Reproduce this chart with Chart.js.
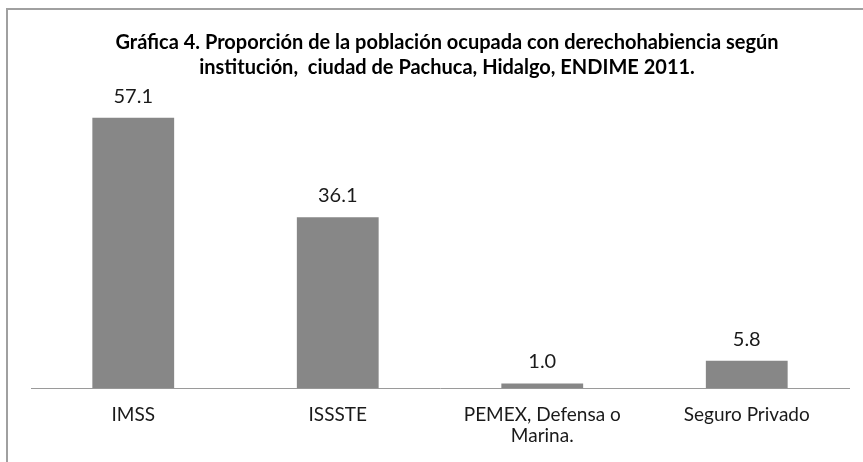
<!DOCTYPE html>
<html>
<head>
<meta charset="utf-8">
<script src="https://cdn.jsdelivr.net/npm/chart.js@4"></script>
<style>
  html, body { margin: 0; padding: 0; background: #fff; overflow: hidden; }
  #wrap { position: relative; width: 863px; height: 462px; }
  #frame { position: absolute; left: 6px; top: 8px; width: 900px; height: 500px; border: 2px solid #a0a0a0; box-sizing: border-box; pointer-events: none; }
  canvas { position: absolute; left: 0; top: 0; }
</style>
</head>
<body>
<div id="wrap">
  <canvas id="c" width="863" height="462"></canvas>
  <div id="frame"></div>
</div>
<script>
const titleLines = [
  "Gráfica 4. Proporción de la población ocupada con derechohabiencia según",
  "institución,  ciudad de Pachuca, Hidalgo, ENDIME 2011."
];
const categories = [["IMSS"], ["ISSSTE"], ["PEMEX, Defensa o", "Marina."], ["Seguro Privado"]];
const values = [57.1, 36.1, 1.0, 5.8];
const barColor = "#878787";

const valueLabels = {
  id: "valueLabels",
  afterDatasetsDraw(chart) {
    const ctx = chart.ctx;
    const meta = chart.getDatasetMeta(0);
    ctx.save();
    ctx.font = "20px Lato";
    ctx.fillStyle = "#1a1a1a";
    ctx.textAlign = "center";
    ctx.textBaseline = "alphabetic";
    meta.data.forEach((bar, i) => {
      ctx.fillText(values[i].toFixed(1), bar.x, bar.y - 15);
    });
    ctx.restore();
  }
};

new Chart(document.getElementById("c"), {
  type: "bar",
  data: {
    labels: categories,
    datasets: [{
      data: values,
      backgroundColor: barColor,
      borderWidth: 0,
      categoryPercentage: 0.8,
      barPercentage: 0.5
    }]
  },
  options: {
    responsive: false,
    animation: false,
    layout: { padding: { left: 31, right: 0, top: 30, bottom: 8 } },
    plugins: {
      legend: { display: false },
      tooltip: { enabled: false },
      title: {
        display: true,
        text: titleLines,
        color: "#000",
        font: { family: "Lato", size: 20, weight: "bold", lineHeight: 25 / 20 },
        padding: { top: 0, bottom: 24 }
      }
    },
    scales: {
      x: {
        grid: { display: false },
        border: { display: true, color: "#9a9a9a", width: 1 },
        ticks: { color: "#1a1a1a", font: { family: "Lato", size: 19, lineHeight: 1.1 }, padding: 8, maxRotation: 0, autoSkip: false }
      },
      y: {
        position: "right",
        min: 0,
        max: 60,
        grid: { display: false },
        border: { display: false },
        ticks: { display: false },
        afterFit(scale) { scale.width = 14; }
      }
    }
  },
  plugins: [valueLabels]
});
</script>
</body>
</html>
